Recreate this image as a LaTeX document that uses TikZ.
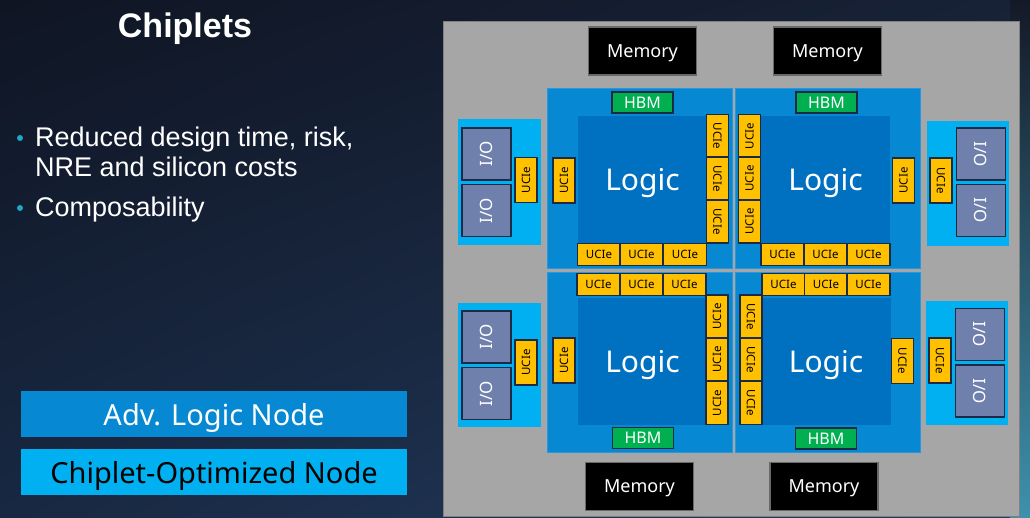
\documentclass[tikz,border=0pt]{standalone}
\usepackage{fontspec}
\setmainfont{Liberation Sans}
\newfontfamily\chipfont{Noto Sans}
\usetikzlibrary{shadings}

\definecolor{bgtl}{RGB}{15,21,35}
\definecolor{bgtr}{RGB}{24,34,55}
\definecolor{bgbl}{RGB}{24,40,66}
\definecolor{bgbr}{RGB}{36,60,95}
\definecolor{edgetop}{RGB}{20,25,38}
\definecolor{edgebottom}{RGB}{62,145,172}
\definecolor{chipgray}{RGB}{166,166,166}
\definecolor{panelline}{RGB}{128,128,128}
\definecolor{chipblue}{RGB}{6,136,210}
\definecolor{quadline}{RGB}{40,152,222}
\definecolor{logicblue}{RGB}{0,112,192}
\definecolor{ioblue}{RGB}{0,176,240}
\definecolor{ioslate}{RGB}{112,128,172}
\definecolor{boxline}{RGB}{28,42,70}
\definecolor{ucieyellow}{RGB}{255,192,0}
\definecolor{hbmgreen}{RGB}{0,176,80}
\definecolor{memline}{RGB}{105,105,105}
\definecolor{bulletteal}{RGB}{30,168,200}

\begin{document}
\begin{tikzpicture}[x=1pt,y=-1pt,
	box/.style={draw=boxline, line width=1.2pt, inner sep=0pt, outer sep=0pt, font=\chipfont},
	memorybox/.style={box, draw=memline, fill=black, text=white, text depth=0pt, minimum width=108pt, minimum height=48pt, font=\chipfont\fontsize{18}{20}\selectfont},
	hbmbox/.style={box, fill=hbmgreen, text=white, minimum width=61pt, minimum height=21pt, font=\chipfont\fontsize{16}{18}\selectfont},
	logicbox/.style={inner sep=0pt, fill=logicblue, text=white, text depth=0pt, minimum width=129pt, minimum height=127pt, font=\chipfont\fontsize{30}{34}\selectfont},
	ucie/.style={box, fill=ucieyellow, text=black, minimum width=43pt, minimum height=22pt, font=\chipfont\fontsize{11.5}{12}\selectfont},
	iobox/.style={box, fill=ioslate, text=white, minimum width=52pt, minimum height=49pt, font=\chipfont\fontsize{17}{19}\selectfont},
	quad/.style={fill=chipblue, draw=quadline, line width=0.6pt},
	ioregion/.style={fill=ioblue},
	legend/.style={inner sep=0pt, text depth=0pt, minimum width=386pt, minimum height=46pt, font=\chipfont\fontsize{29}{32}\selectfont},
	bullettext/.style={anchor=base west, inner sep=0pt, text=white, font=\fontsize{27}{30}\selectfont},
	dot/.style={circle, fill=bulletteal, inner sep=0pt, minimum size=6pt}
	]
	\useasboundingbox (0,0) rectangle (1030,518);
	
	%----------------------------
	% Background
	%----------------------------
	\shade[upper left=bgtl, upper right=bgtr, lower left=bgbl, lower right=bgbr]
	(0,0) rectangle (1030,518);
	\shade[top color=edgetop, bottom color=edgebottom]
	(1010,0) rectangle (1030,518);
	
	%----------------------------
	% Left: title, bullets, legend
	%----------------------------
	\node[anchor=base, inner sep=0pt, text=white, font=\bfseries\fontsize{34}{40}\selectfont] (title) at (185,38) {Chiplets};
	
	\node[dot] (dot1) at (20,138) {};
	\node[bullettext] (line1) at (35,147) {Reduced design time, risk,};
	\node[bullettext] (line2) at (35,177) {NRE and silicon costs};
	\node[dot] (dot2) at (20,208) {};
	\node[bullettext] (line3) at (35,217) {Composability};
	
	\node[legend, fill=chipblue, text=white] (advnode) at (214,414) {Adv. Logic Node};
	\node[legend, fill=ioblue, text=black] (optnode) at (214,472) {Chiplet-Optimized Node};
	
	%----------------------------
	% Package and memory
	%----------------------------
	\draw[fill=chipgray, draw=panelline, line width=1pt] (443,22) rectangle (1019,516);
	
	\node[memorybox] (memTL) at (642.5,51) {Memory};
	\node[memorybox] (memTR) at (827.5,51) {Memory};
	\node[memorybox] (memBL) at (639.5,486.5) {Memory};
	\node[memorybox] (memBR) at (824,486.5) {Memory};
	
	%----------------------------
	% Top left logic die
	%----------------------------
	\draw[quad] (547,88) rectangle (732,268);
	\node[logicbox] (logicTL) at (642.5,179.5) {Logic};
	\node[hbmbox] (hbmTL) at (642.5,102.5) {HBM};
	\foreach \x [count=\i] in {599,641.5,685}
	\node[ucie] (ucieTLrow\i) at (\x,254.5) {UCIe};
	\foreach \y [count=\i] in {136,178.5,221.5}
	\node[ucie, rotate=-90] (ucieTLcol\i) at (717.5,\y) {UCIe};
	\node[ucie, minimum width=45pt, rotate=90] (ucieTLside) at (564,180.5) {UCIe};
	
	%----------------------------
	% Top right logic die
	%----------------------------
	\draw[quad] (735,88) rectangle (920,268);
	\node[logicbox] (logicTR) at (825.5,179.5) {Logic};
	\node[hbmbox] (hbmTR) at (826.5,102.5) {HBM};
	\foreach \x [count=\i] in {782.5,825.5,868.5}
	\node[ucie] (ucieTRrow\i) at (\x,254.5) {UCIe};
	\foreach \y [count=\i] in {136,178.5,221.5}
	\node[ucie, rotate=90] (ucieTRcol\i) at (749.5,\y) {UCIe};
	\node[ucie, minimum width=45pt, rotate=90] (ucieTRside) at (903.5,180.5) {UCIe};
	
	%----------------------------
	% Bottom left logic die
	%----------------------------
	\draw[quad] (547,272) rectangle (732,452);
	\node[logicbox] (logicBL) at (642.5,361.5) {Logic};
	\node[hbmbox] (hbmBL) at (643,438) {HBM};
	\foreach \x [count=\i] in {598.5,641.5,684.5}
	\node[ucie] (ucieBLrow\i) at (\x,284.5) {UCIe};
	\foreach \y [count=\i] in {316.5,359.5,403}
	\node[ucie, rotate=90] (ucieBLcol\i) at (717,\y) {UCIe};
	\node[ucie, minimum width=45pt, rotate=90] (ucieBLside) at (564,360.5) {UCIe};
	
	%----------------------------
	% Bottom right logic die
	%----------------------------
	\draw[quad] (735,272) rectangle (920,452);
	\node[logicbox] (logicBR) at (826,361.5) {Logic};
	\node[hbmbox] (hbmBR) at (826,438.5) {HBM};
	\foreach \x [count=\i] in {783.5,826,868.5}
	\node[ucie] (ucieBRrow\i) at (\x,284.5) {UCIe};
	\foreach \y [count=\i] in {316.5,359.5,403}
	\node[ucie, rotate=-90] (ucieBRcol\i) at (751,\y) {UCIe};
	\node[ucie, minimum width=45pt, rotate=-90] (ucieBRside) at (902.5,361) {UCIe};
	
	%----------------------------
	% I/O chiplets
	%----------------------------
	% left side
	\fill[ioregion] (458,119) rectangle (541,245);
	\node[iobox, rotate=90] (ioTL1) at (486.5,154) {I/O};
	\node[iobox, rotate=90] (ioTL2) at (486.5,210.5) {I/O};
	\node[ucie, minimum width=45pt, rotate=90] (ucieTLio) at (526,180) {UCIe};
	
	\fill[ioregion] (458,303) rectangle (541,427);
	\node[iobox, rotate=90] (ioBL1) at (486.5,337) {I/O};
	\node[iobox, rotate=90] (ioBL2) at (486.5,393.5) {I/O};
	\node[ucie, minimum width=45pt, rotate=90] (ucieBLio) at (526,362.5) {UCIe};
	
	% right side
	\fill[ioregion] (927,121) rectangle (1009,246);
	\node[iobox, rotate=-90] (ioTR1) at (981,154) {I/O};
	\node[iobox, rotate=-90] (ioTR2) at (981,210.5) {I/O};
	\node[ucie, minimum width=45pt, rotate=-90] (ucieTRio) at (941,180.5) {UCIe};
	
	\fill[ioregion] (926,301) rectangle (1008,425);
	\node[iobox, rotate=-90] (ioBR1) at (980,334.5) {I/O};
	\node[iobox, rotate=-90] (ioBR2) at (980,391) {I/O};
	\node[ucie, minimum width=45pt, rotate=-90] (ucieBRio) at (940,360.5) {UCIe};
	
\end{tikzpicture}
\end{document}
